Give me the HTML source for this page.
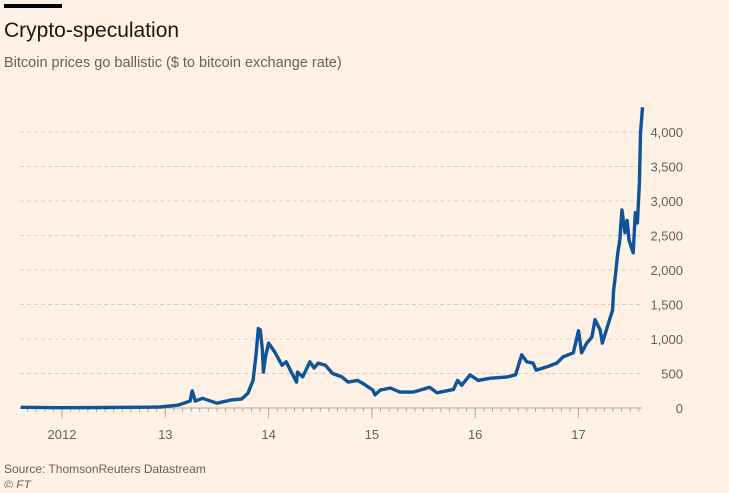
<!DOCTYPE html>
<html><head><meta charset="utf-8"><style>
body{margin:0;background:#fff1e5;width:729px;height:488px;overflow:hidden;font-family:"Liberation Sans",sans-serif;}
</style></head><body>
<svg width="729" height="488" xmlns="http://www.w3.org/2000/svg">
<rect width="729" height="488" fill="#fff1e5"/>
<rect x="4" y="4" width="58" height="4" fill="#000"/>
<text x="4" y="37" font-size="21" fill="#1a1817">Crypto-speculation</text>
<text x="4" y="67" font-size="14.5" fill="#66605c">Bitcoin prices go ballistic ($ to bitcoin exchange rate)</text>
<g id="grid"></g><g id="xaxis"></g><g id="yaxis"></g>
<path id="line" fill="none" stroke="#0f5499" stroke-width="3.4" stroke-linejoin="round"/>
<text x="4" y="473" font-size="12" fill="#66605c">Source: ThomsonReuters Datastream</text>
<text x="4" y="489" font-size="12" font-style="italic" fill="#66605c">© FT</text>
</svg>
<script>
const dates=[2011.60,2012.0,2012.46,2012.85,2012.95,2013.12,2013.24,2013.26,2013.29,2013.36,2013.50,2013.63,2013.74,2013.80,2013.85,2013.88,2013.90,2013.92,2013.94,2013.95,2013.97,2014.00,2014.06,2014.13,2014.17,2014.22,2014.27,2014.28,2014.33,2014.40,2014.44,2014.48,2014.55,2014.62,2014.71,2014.77,2014.86,2014.91,2015.01,2015.03,2015.08,2015.18,2015.27,2015.40,2015.56,2015.63,2015.79,2015.83,2015.87,2015.95,2016.03,2016.14,2016.31,2016.39,2016.45,2016.50,2016.56,2016.59,2016.70,2016.79,2016.85,2016.95,2017.00,2017.03,2017.08,2017.13,2017.16,2017.21,2017.23,2017.29,2017.33,2017.34,2017.35,2017.38,2017.40,2017.42,2017.45,2017.47,2017.49,2017.53,2017.55,2017.57,2017.59,2017.60,2017.62];
const prices=[10,5,7,12,15,40,100,250,100,140,70,115,130,215,400,800,1150,1130,840,520,740,940,810,620,670,520,375,520,450,670,580,650,620,500,450,375,400,360,260,190,260,290,230,230,300,220,270,400,330,480,400,430,450,480,770,670,650,550,600,650,740,800,1120,800,940,1030,1280,1130,940,1230,1420,1710,1830,2250,2430,2870,2540,2720,2430,2250,2830,2680,3260,3980,4360];
const yTicks=[0,500,1000,1500,2000,2500,3000,3500,4000];
const yLabels=["0","500","1,000","1,500","2,000","2,500","3,000","3,500","4,000"];
const xTicks=[2012,2013,2014,2015,2016,2017];
const xLabels=["2012","13","14","15","16","17"];
const NS="http://www.w3.org/2000/svg";
const X=y=>62+(y-2012)*103.3;
const Y=v=>408-v*0.069;
const grid=document.getElementById('grid'),ya=document.getElementById('yaxis'),xa=document.getElementById('xaxis');
yTicks.forEach((t,i)=>{
 if(t>0){const l=document.createElementNS(NS,'line');
 l.setAttribute('x1',20);l.setAttribute('x2',642);l.setAttribute('y1',Y(t));l.setAttribute('y2',Y(t));
 l.setAttribute('stroke','#d9cdc3');l.setAttribute('stroke-dasharray','4,3');
 
 
 grid.appendChild(l);}
 const tx=document.createElementNS(NS,'text');
 tx.setAttribute('x',683);tx.setAttribute('y',Y(t)+5);tx.setAttribute('text-anchor','end');
 tx.setAttribute('font-size','13');tx.setAttribute('fill','#66605c');tx.textContent=yLabels[i];
 
 
 ya.appendChild(tx);
});
const ax=document.createElementNS(NS,'line');
ax.setAttribute('x1',20);ax.setAttribute('x2',642);ax.setAttribute('y1',408);ax.setAttribute('y2',408);ax.setAttribute('stroke','#b3a9a0');


xa.appendChild(ax);
for(let m=2011.667;m<2017.66;m+=1/12){
 const l=document.createElementNS(NS,'line');const x=X(m);
 l.setAttribute('x1',x);l.setAttribute('x2',x);l.setAttribute('y1',408);l.setAttribute('y2',412);l.setAttribute('stroke','#b3a9a0');
 
 
 xa.appendChild(l);
}
xTicks.forEach((t,i)=>{
 const l=document.createElementNS(NS,'line');
 l.setAttribute('x1',X(t));l.setAttribute('x2',X(t));l.setAttribute('y1',408);l.setAttribute('y2',418);l.setAttribute('stroke','#b3a9a0');
 
 
 xa.appendChild(l);
 const tx=document.createElementNS(NS,'text');
 tx.setAttribute('x',X(t));tx.setAttribute('y',439);tx.setAttribute('text-anchor','middle');
 tx.setAttribute('font-size','13');tx.setAttribute('fill','#66605c');tx.textContent=xLabels[i];
 
 
 xa.appendChild(tx);
});
document.getElementById('line').setAttribute('d',dates.map((d,i)=>(i?'L':'M')+X(d).toFixed(1)+','+Y(prices[i]).toFixed(1)).join(''));
</script>
</body></html>
